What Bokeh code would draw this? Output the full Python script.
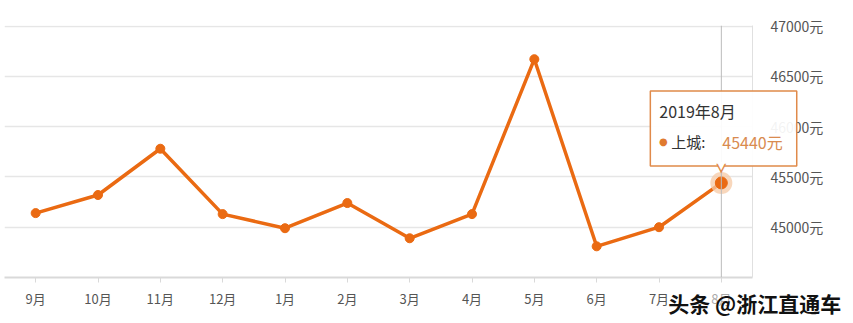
from bokeh.plotting import figure
from bokeh.models import FactorRange, Range1d, FixedTicker, PrintfTickFormatter, Span
from bokeh.core.properties import value
from bokeh.embed import file_html
from bokeh.resources import INLINE

months = ["9月", "10月", "11月", "12月", "1月", "2月", "3月", "4月", "5月", "6月", "7月", "8月"]
prices = [45140, 45320, 45780, 45130, 44990, 45240, 44890, 45130, 46670, 44810, 45000, 45440]
y_ticks = [45000, 45500, 46000, 46500, 47000]
series_name = "上城"
tip_title = "2019年8月"
watermark = "头条 @浙江直通车"

FONT = "Noto Sans CJK SC"
ORANGE = "#EA6A12"

p = figure(x_range=FactorRange(*months), y_range=Range1d(44500, 47005),
           width=853, height=323, output_backend="svg", toolbar_location=None,
           y_axis_location="right",
           min_border_left=4, min_border_right=101, min_border_top=25, min_border_bottom=46)
p.outline_line_color = None
p.background_fill_color = "white"

# x axis
xa = p.xaxis[0]
xa.axis_line_color = "#d9d9d9"
xa.axis_line_width = 2
xa.major_tick_line_color = "#d9d9d9"
xa.major_tick_out = 5
xa.major_tick_in = 0
xa.minor_tick_line_color = None
xa.major_label_text_color = "#555555"
xa.major_label_text_font = FONT
xa.major_label_text_font_size = "13px"
xa.major_label_standoff = 6

# y axis (right)
ya = p.yaxis[0]
ya.ticker = FixedTicker(ticks=y_ticks)
ya.formatter = PrintfTickFormatter(format="%d元")
ya.axis_line_color = "#e0e0e0"
ya.major_tick_line_color = None
ya.minor_tick_line_color = None
ya.major_label_text_color = "#555555"
ya.major_label_text_font = FONT
ya.major_label_text_font_size = "14px"
ya.major_label_standoff = 12

p.xgrid.grid_line_color = None
p.ygrid.ticker = FixedTicker(ticks=y_ticks)
p.ygrid.grid_line_color = "#e6e6e6"
p.ygrid.grid_line_width = 1.5

# crosshair at the last category (synthetic categorical coordinate = index + 0.5)
last_x = months.index(months[-1]) + 0.5
p.add_layout(Span(location=last_x, dimension="height", line_color="#bbbbbb", line_width=1))

# series
p.line(x=months, y=prices, line_color=ORANGE, line_width=3.5, line_join="round")
p.scatter(x=months, y=prices, size=9, fill_color=ORANGE, line_color=ORANGE)
# highlighted point
hx, hy = [months[-1]], [prices[-1]]
p.scatter(x=hx, y=hy, size=22, fill_color="#F6C9A6", fill_alpha=0.75, line_color=None)
p.scatter(x=hx, y=hy, size=12, fill_color=ORANGE, line_color=ORANGE)

# tooltip (text glyphs at overlay level so they are not clipped to the frame)
p.text(x=hx, y=hy, text=[tip_title], level="overlay",
       x_offset=-71, y_offset=-92, text_align="left", text_baseline="top",
       text_font=value(FONT), text_font_size="16px", text_color="#333333",
       background_fill_color="white", background_fill_alpha=0.93,
       border_line_color="#E08A4A", border_line_width=1.5,
       padding=(9, 61, 8, 43))
# pointer
p.text(x=hx, y=hy, text=["▼"], level="overlay", x_offset=0, y_offset=-15,
       text_align="center", text_baseline="middle", text_font=value("DejaVu Sans"),
       text_font_size="13px", text_color="#E08A4A")
p.text(x=hx, y=hy, text=["▼"], level="overlay", x_offset=0, y_offset=-17,
       text_align="center", text_baseline="middle", text_font=value("DejaVu Sans"),
       text_font_size="11px", text_color="white")
p.text(x=hx, y=hy, text=["●"], level="overlay", x_offset=-58, y_offset=-41,
       text_align="center", text_baseline="middle", text_font=value("DejaVu Sans"),
       text_font_size="10px", text_color="#E07A2F")
p.text(x=hx, y=hy, text=[series_name + ":"], level="overlay", x_offset=-50, y_offset=-41,
       text_align="left", text_baseline="middle", text_font=value(FONT),
       text_font_size="15px", text_color="#333333")
p.text(x=hx, y=hy, text=[f"{prices[-1]}元"], level="overlay", x_offset=1, y_offset=-41,
       text_align="left", text_baseline="middle", text_font=value(FONT),
       text_font_size="16px", text_color="#D98B4F")

# watermark
p.text(x=hx, y=[p.y_range.start], text=[watermark], level="overlay",
       x_offset=-53, y_offset=25, text_align="left", text_baseline="middle",
       text_font=value(FONT), text_font_size="21px", text_color="#111111",
       text_font_style="bold",
       background_fill_color="white", background_fill_alpha=0.5)

open("out.html", "w").write(file_html(p, INLINE))
